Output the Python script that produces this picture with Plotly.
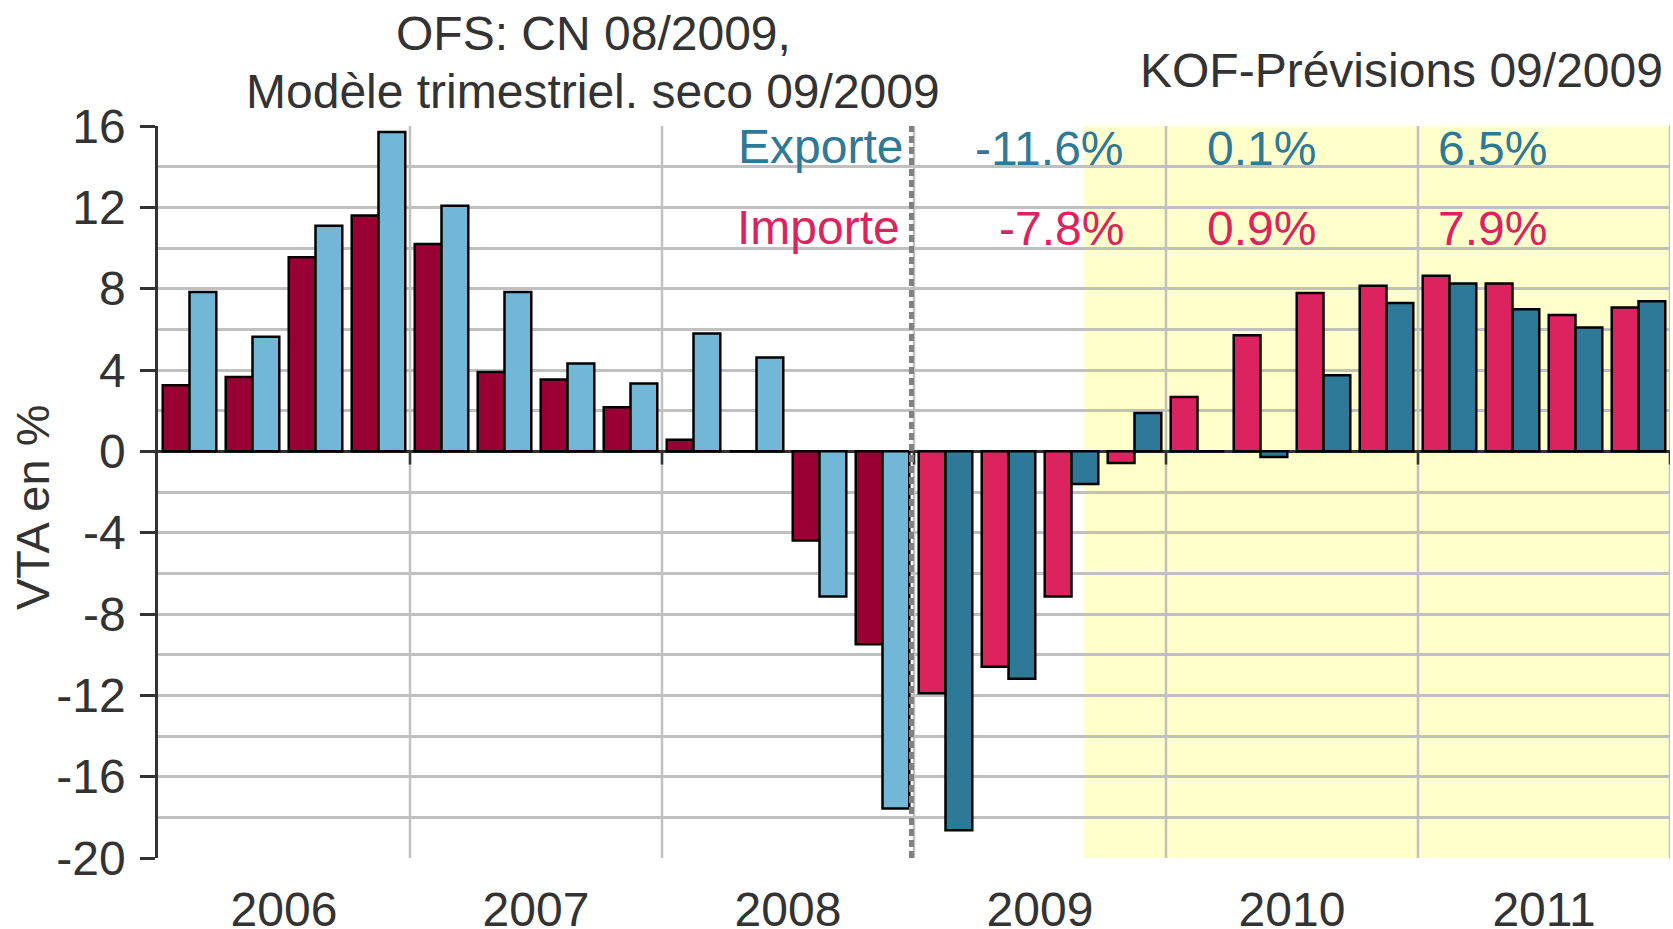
import plotly.graph_objects as go

# ---------------- data ----------------
quarters = [f"{y}Q{q}" for y in range(2006, 2012) for q in range(1, 5)]
years = ["2006", "2007", "2008", "2009", "2010", "2011"]
imports = [3.25, 3.66, 9.54, 11.6, 10.2, 3.9, 3.53, 2.17, 0.57, 0.0, -4.38, -9.49,
           -11.9, -10.6, -7.14, -0.57, 2.67, 5.71, 7.79, 8.14, 8.63, 8.25, 6.70, 7.07]
exports = [7.84, 5.63, 11.1, 15.7, 12.08, 7.84, 4.32, 3.33, 5.79, 4.61, -7.14, -17.57,
           -18.64, -11.18, -1.61, 1.89, 0.0, -0.28, 3.74, 7.30, 8.25, 6.99, 6.09, 7.38]
n_hist = 12  # quarters of official data (OFS); the rest are forecasts
growth_years = ["2009", "2010", "2011"]
export_growth = [-11.6, 0.1, 6.5]
import_growth = [-7.8, 0.9, 7.9]
y_ticks = [16, 12, 8, 4, 0, -4, -8, -12, -16, -20]
y_ticktext = [str(v) for v in y_ticks]

# ---------------- styles ----------------
C_IMP_H, C_IMP_F = "#990033", "#DB2360"
C_EXP_H, C_EXP_F = "#72B8D6", "#2E7898"
TXT = "#333333"
GRID = "#C0C0C0"
FONT = "Liberation Sans, Arial, sans-serif"

x = list(range(len(quarters)))
imp_colors = [C_IMP_H if i < n_hist else C_IMP_F for i in x]
exp_colors = [C_EXP_H if i < n_hist else C_EXP_F for i in x]

fig = go.Figure()
fig.add_trace(go.Bar(x=x, y=imports, name="Importe",
                     marker=dict(color=imp_colors, line=dict(color="black", width=2.5))))
fig.add_trace(go.Bar(x=x, y=exports, name="Exporte",
                     marker=dict(color=exp_colors, line=dict(color="black", width=2.5))))

n_years = len(years)
bounds = [-0.5 + 4 * k for k in range(n_years + 1)]
ymin, ymax = -20, 16

shapes = []
# forecast shading
shapes.append(dict(type="rect", xref="x", yref="y", x0=14.2, x1=bounds[-1], y0=ymin, y1=ymax,
                   fillcolor="#FFFFCC", line=dict(width=0), layer="below"))
# vertical year gridlines + right border
for b in bounds[1:]:
    shapes.append(dict(type="line", xref="x", yref="y", x0=b, x1=b, y0=ymin, y1=ymax,
                       line=dict(color=GRID, width=2.5), layer="below"))
# year tick marks below zero line
for b in bounds[1:]:
    shapes.append(dict(type="line", xref="x", yref="y", x0=b, x1=b, y0=0, y1=-0.65,
                       line=dict(color=TXT, width=2.5), layer="above"))
# dashed separation line (official data / forecast)
shapes.append(dict(type="line", xref="x", yref="y", x0=n_hist - 0.54, x1=n_hist - 0.54,
                   y0=ymin, y1=ymax, line=dict(color="#808080", width=5, dash="7px,4px"),
                   layer="above"))

annotations = []
annotations.append(dict(text="OFS: CN 08/2009,", xref="paper", yref="paper", x=0.2877, y=1.1257,
                        xanchor="center", yanchor="middle", showarrow=False,
                        font=dict(size=48, color=TXT, family=FONT)))
annotations.append(dict(text="Modèle trimestriel. seco 09/2009", xref="paper", yref="paper",
                        x=0.2877, y=1.0478, xanchor="center", yanchor="middle", showarrow=False,
                        font=dict(size=48, color=TXT, family=FONT)))
annotations.append(dict(text="KOF-Prévisions 09/2009", xref="paper", yref="paper",
                        x=0.997, y=1.0765, xanchor="right", yanchor="middle", showarrow=False,
                        font=dict(size=48, color=TXT, family=FONT)))
annotations.append(dict(text="VTA en %", xref="paper", yref="paper", x=-0.0833, y=0.4795,
                        xanchor="center", yanchor="middle", textangle=-90, showarrow=False,
                        font=dict(size=47, color=TXT, family=FONT)))
annotations.append(dict(text="Exporte", xref="x", yref="y", x=11.36, y=15.0, xanchor="right",
                        yanchor="middle", showarrow=False, font=dict(size=48, color=C_EXP_F, family=FONT)))
annotations.append(dict(text="Importe", xref="x", yref="y", x=11.31, y=11.0, xanchor="right",
                        yanchor="middle", showarrow=False, font=dict(size=48, color=C_IMP_F, family=FONT)))
label_x = [14.87, 17.91, 21.58]
for lx, ev, iv in zip(label_x, export_growth, import_growth):
    annotations.append(dict(text=f"{ev:.1f}%", xref="x", yref="y", x=lx, y=14.9, xanchor="right",
                            yanchor="middle", showarrow=False,
                            font=dict(size=48, color=C_EXP_F, family=FONT)))
    annotations.append(dict(text=f"{iv:.1f}%", xref="x", yref="y", x=lx, y=10.95, xanchor="right",
                            yanchor="middle", showarrow=False,
                            font=dict(size=48, color=C_IMP_F, family=FONT)))

year_centers = [b + 2 for b in bounds[:-1]]

fig.update_layout(
    width=1673, height=929,
    margin=dict(l=158, r=3, t=126, b=71, autoexpand=False),
    paper_bgcolor="white", plot_bgcolor="white",
    barmode="group", bargap=0.15, bargroupgap=0,
    showlegend=False,
    font=dict(family=FONT, color=TXT),
    shapes=shapes, annotations=annotations,
    xaxis=dict(range=[bounds[0], bounds[-1]], tickvals=year_centers, ticktext=years,
               showgrid=False, zeroline=False, showline=False, ticks="", automargin=False,
               tickfont=dict(size=48, color=TXT, family=FONT), ticklabelstandoff=19),
    yaxis=dict(range=[ymin, ymax], tickvals=y_ticks, ticktext=y_ticktext, automargin=False,
               showgrid=True, gridcolor=GRID, gridwidth=2.5,
               minor=dict(dtick=2, tick0=0, showgrid=True, gridcolor=GRID, gridwidth=2.5),
               zeroline=True, zerolinecolor=TXT, zerolinewidth=3,
               showline=True, linecolor=TXT, linewidth=2.5,
               ticks="outside", ticklen=15, tickwidth=2.5, tickcolor=TXT,
               ticklabelstandoff=5,
               tickfont=dict(size=48, color=TXT, family=FONT)),
)

fig.write_html("out.html", config={"displayModeBar": False},
               post_script="document.body.style.margin='0px';document.body.style.overflow='hidden';")
